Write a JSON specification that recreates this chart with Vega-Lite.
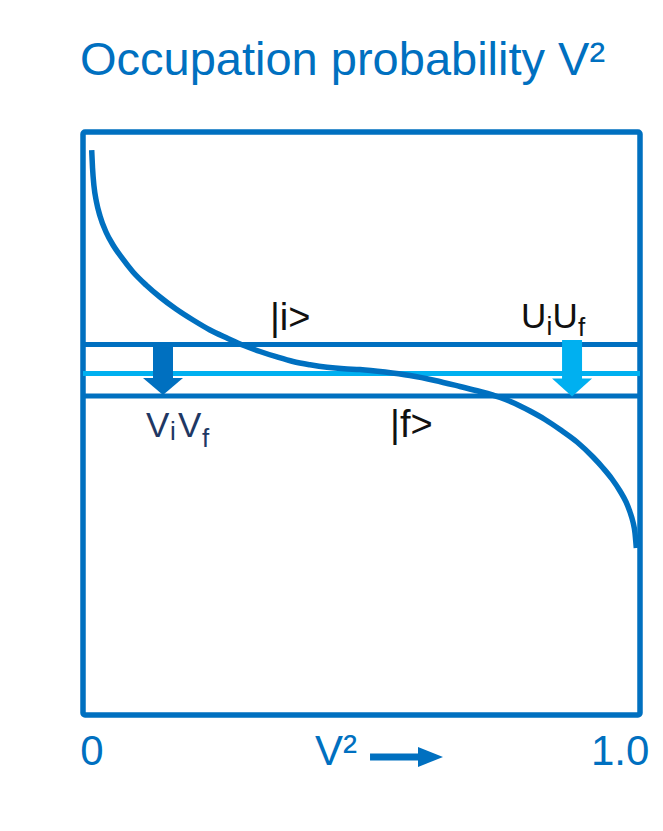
{
  "$schema": "https://vega.github.io/schema/vega-lite/v6.json",
  "width": 557,
  "height": 583,
  "autosize": "none",
  "padding": {"left": 83, "top": 132, "right": 23, "bottom": 116},
  "background": "white",
  "config": {"view": {"stroke": "#0070C0", "strokeWidth": 5.5, "cornerRadius": 2}},
  "layer": [
    {
      "data": {"values": [
        {"state": "initial", "y": 0.6355},
        {"state": "final", "y": 0.5472}
      ]},
      "mark": {"type": "rule", "color": "#0070C0", "strokeWidth": 5},
      "encoding": {
        "y": {"field": "y", "type": "quantitative", "scale": {"domain": [0, 1]}, "axis": null}
      }
    },
    {
      "data": {"values": [
        {"state": "midpoint", "y": 0.5858}
      ]},
      "mark": {"type": "rule", "color": "#00B0F0", "strokeWidth": 5},
      "encoding": {
        "y": {"field": "y", "type": "quantitative", "scale": {"domain": [0, 1]}, "axis": null}
      }
    },
    {
      "data": {"values": [
        {"x": 0.0156, "y": 0.9691},
        {"x": 0.0171, "y": 0.9383},
        {"x": 0.0197, "y": 0.9074},
        {"x": 0.0242, "y": 0.8799},
        {"x": 0.0305, "y": 0.8559},
        {"x": 0.0413, "y": 0.8285},
        {"x": 0.0539, "y": 0.8062},
        {"x": 0.0700, "y": 0.7839},
        {"x": 0.0898, "y": 0.7599},
        {"x": 0.1131, "y": 0.7376},
        {"x": 0.1382, "y": 0.7170},
        {"x": 0.1670, "y": 0.6964},
        {"x": 0.1975, "y": 0.6775},
        {"x": 0.2280, "y": 0.6604},
        {"x": 0.2585, "y": 0.6467},
        {"x": 0.2890, "y": 0.6338},
        {"x": 0.3178, "y": 0.6235},
        {"x": 0.3483, "y": 0.6141},
        {"x": 0.3770, "y": 0.6063},
        {"x": 0.4075, "y": 0.6007},
        {"x": 0.4381, "y": 0.5964},
        {"x": 0.4686, "y": 0.5938},
        {"x": 0.4973, "y": 0.5926},
        {"x": 0.5422, "y": 0.5883},
        {"x": 0.5871, "y": 0.5823},
        {"x": 0.6320, "y": 0.5738},
        {"x": 0.6768, "y": 0.5635},
        {"x": 0.7127, "y": 0.5549},
        {"x": 0.7487, "y": 0.5446},
        {"x": 0.7756, "y": 0.5343},
        {"x": 0.8025, "y": 0.5214},
        {"x": 0.8294, "y": 0.5069},
        {"x": 0.8564, "y": 0.4897},
        {"x": 0.8869, "y": 0.4683},
        {"x": 0.9156, "y": 0.4425},
        {"x": 0.9336, "y": 0.4237},
        {"x": 0.9497, "y": 0.4048},
        {"x": 0.9641, "y": 0.3842},
        {"x": 0.9749, "y": 0.3654},
        {"x": 0.9820, "y": 0.3482},
        {"x": 0.9874, "y": 0.3310},
        {"x": 0.9910, "y": 0.3122},
        {"x": 0.9934, "y": 0.2864}
      ]},
      "mark": {"type": "line", "color": "#0070C0", "strokeWidth": 5.5, "interpolate": "monotone", "strokeCap": "butt"},
      "encoding": {
        "x": {"field": "x", "type": "quantitative", "scale": {"domain": [0, 1]}, "axis": null},
        "y": {"field": "y", "type": "quantitative", "scale": {"domain": [0, 1]}, "axis": null}
      }
    },
    {
      "data": {"values": [{"arrow": "ViVf", "x": 0.1436, "y": 0.638, "y2": 0.5746}]},
      "mark": {"type": "rule", "color": "#0070C0", "strokeWidth": 20},
      "encoding": {
        "x": {"field": "x", "type": "quantitative", "scale": {"domain": [0, 1]}, "axis": null},
        "y": {"field": "y", "type": "quantitative", "scale": {"domain": [0, 1]}, "axis": null},
        "y2": {"field": "y2"}
      }
    },
    {
      "data": {"values": [{"arrow": "ViVf", "x": 0.1436, "y": 0.5635}]},
      "mark": {"type": "point", "shape": "M-1,-0.42L1,-0.42L0,0.42Z", "size": 1600, "filled": true, "opacity": 1, "color": "#0070C0", "strokeWidth": 0},
      "encoding": {
        "x": {"field": "x", "type": "quantitative", "scale": {"domain": [0, 1]}, "axis": null},
        "y": {"field": "y", "type": "quantitative", "scale": {"domain": [0, 1]}, "axis": null}
      }
    },
    {
      "data": {"values": [{"arrow": "UiUf", "x": 0.878, "y": 0.6432, "y2": 0.5746}]},
      "mark": {"type": "rule", "color": "#00B0F0", "strokeWidth": 20},
      "encoding": {
        "x": {"field": "x", "type": "quantitative", "scale": {"domain": [0, 1]}, "axis": null},
        "y": {"field": "y", "type": "quantitative", "scale": {"domain": [0, 1]}, "axis": null},
        "y2": {"field": "y2"}
      }
    },
    {
      "data": {"values": [{"arrow": "UiUf", "x": 0.878, "y": 0.5617}]},
      "mark": {"type": "point", "shape": "M-1,-0.45L1,-0.45L0,0.45Z", "size": 1600, "filled": true, "opacity": 1, "color": "#00B0F0", "strokeWidth": 0},
      "encoding": {
        "x": {"field": "x", "type": "quantitative", "scale": {"domain": [0, 1]}, "axis": null},
        "y": {"field": "y", "type": "quantitative", "scale": {"domain": [0, 1]}, "axis": null}
      }
    },
    {
      "data": {"values": [{"x": 0.5153, "x2": 0.605, "y": -0.072}]},
      "mark": {"type": "rule", "color": "#0070C0", "strokeWidth": 7},
      "encoding": {
        "x": {"field": "x", "type": "quantitative", "scale": {"domain": [0, 1]}, "axis": null},
        "x2": {"field": "x2"},
        "y": {"field": "y", "type": "quantitative", "scale": {"domain": [0, 1]}, "axis": null}
      }
    },
    {
      "data": {"values": [{"x": 0.6239, "y": -0.072}]},
      "mark": {"type": "point", "shape": "M-1,-0.8L1,0L-1,0.8Z", "size": 625, "filled": true, "opacity": 1, "color": "#0070C0", "strokeWidth": 0},
      "encoding": {
        "x": {"field": "x", "type": "quantitative", "scale": {"domain": [0, 1]}, "axis": null},
        "y": {"field": "y", "type": "quantitative", "scale": {"domain": [0, 1]}, "axis": null}
      }
    },
    {
      "data": {"values": [{"t": "Occupation probability V²", "x": 0, "y": 1.0978}]},
      "mark": {"type": "text", "align": "left", "baseline": "alphabetic", "font": "Liberation Sans", "fontSize": 47, "color": "#0070C0", "dx": -3},
      "encoding": {
        "x": {"field": "x", "type": "quantitative", "scale": {"domain": [0, 1]}, "axis": null},
        "y": {"field": "y", "type": "quantitative", "scale": {"domain": [0, 1]}, "axis": null},
        "text": {"field": "t"}
      }
    },
    {
      "data": {"values": [
        {"t": "0", "x": -0.005, "y": -0.0858},
        {"t": "V²", "x": 0.4165, "y": -0.0858},
        {"t": "1.0", "x": 0.912, "y": -0.0858}
      ]},
      "mark": {"type": "text", "align": "left", "baseline": "alphabetic", "font": "Liberation Sans", "fontSize": 42, "color": "#0070C0"},
      "encoding": {
        "x": {"field": "x", "type": "quantitative", "scale": {"domain": [0, 1]}, "axis": null},
        "y": {"field": "y", "type": "quantitative", "scale": {"domain": [0, 1]}, "axis": null},
        "text": {"field": "t"}
      }
    },
    {
      "data": {"values": [
        {"t": "|i>", "x": 0.3357, "y": 0.6604},
        {"t": "|f>", "x": 0.5512, "y": 0.4768}
      ]},
      "mark": {"type": "text", "align": "left", "baseline": "alphabetic", "font": "Liberation Sans", "fontSize": 38, "color": "#111111"},
      "encoding": {
        "x": {"field": "x", "type": "quantitative", "scale": {"domain": [0, 1]}, "axis": null},
        "y": {"field": "y", "type": "quantitative", "scale": {"domain": [0, 1]}, "axis": null},
        "text": {"field": "t"}
      }
    },
    {
      "data": {"values": [
        {"t": "U", "x": 0.7864, "y": 0.6638},
        {"t": "U", "x": 0.8429, "y": 0.6638}
      ]},
      "mark": {"type": "text", "align": "left", "baseline": "alphabetic", "font": "Liberation Sans", "fontSize": 35, "color": "#111111"},
      "encoding": {
        "x": {"field": "x", "type": "quantitative", "scale": {"domain": [0, 1]}, "axis": null},
        "y": {"field": "y", "type": "quantitative", "scale": {"domain": [0, 1]}, "axis": null},
        "text": {"field": "t"}
      }
    },
    {
      "data": {"values": [
        {"t": "i", "x": 0.8321, "y": 0.6518},
        {"t": "f", "x": 0.8887, "y": 0.6501}
      ]},
      "mark": {"type": "text", "align": "left", "baseline": "alphabetic", "font": "Liberation Sans", "fontSize": 26, "color": "#111111"},
      "encoding": {
        "x": {"field": "x", "type": "quantitative", "scale": {"domain": [0, 1]}, "axis": null},
        "y": {"field": "y", "type": "quantitative", "scale": {"domain": [0, 1]}, "axis": null},
        "text": {"field": "t"}
      }
    },
    {
      "data": {"values": [
        {"t": "V", "x": 0.1131, "y": 0.4768},
        {"t": "V", "x": 0.1706, "y": 0.4768}
      ]},
      "mark": {"type": "text", "align": "left", "baseline": "alphabetic", "font": "Liberation Sans", "fontSize": 35, "color": "#1F3864"},
      "encoding": {
        "x": {"field": "x", "type": "quantitative", "scale": {"domain": [0, 1]}, "axis": null},
        "y": {"field": "y", "type": "quantitative", "scale": {"domain": [0, 1]}, "axis": null},
        "text": {"field": "t"}
      }
    },
    {
      "data": {"values": [
        {"t": "i", "x": 0.1562, "y": 0.4717},
        {"t": "f", "x": 0.2136, "y": 0.4597}
      ]},
      "mark": {"type": "text", "align": "left", "baseline": "alphabetic", "font": "Liberation Sans", "fontSize": 26, "color": "#1F3864"},
      "encoding": {
        "x": {"field": "x", "type": "quantitative", "scale": {"domain": [0, 1]}, "axis": null},
        "y": {"field": "y", "type": "quantitative", "scale": {"domain": [0, 1]}, "axis": null},
        "text": {"field": "t"}
      }
    }
  ]
}
